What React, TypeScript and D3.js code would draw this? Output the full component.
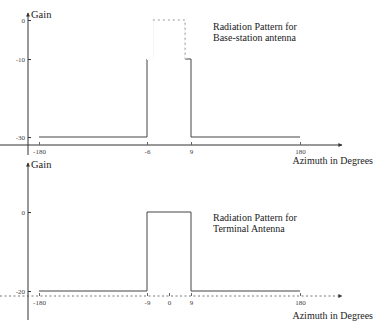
import React, { useEffect, useRef } from 'react'
import * as d3 from 'd3'

// base-station antenna: gain is constant between breaks
const baseBreaks = [-180, -6, -4, 7, 9, 180]
const baseGain = [-30, -10, 0, -10, -30]
const baseXTicks = [-180, -6, 9, 180]
const baseYTicks = [0, -10, -30]

// terminal antenna
const termBreaks = [-180, -9, 9, 180]
const termGain = [-20, 0, -20]
const termXTicks = [-180, -9, 0, 9, 180]
const termYTicks = [0, -20]

const FONT = "'Liberation Serif', 'Times New Roman', 'DejaVu Serif', serif"
const INK = '#333'

const stepPoints = (breaks: number[], gains: number[]) =>
  breaks.map((b, i) => [b, gains[Math.min(i, gains.length - 1)]] as [number, number])

const App = () => {
  const ref = useRef<SVGSVGElement>(null)

  useEffect(() => {
    const svg = d3.select(ref.current)
    svg.selectAll('*').remove()

    svg
      .append('defs')
      .append('marker')
      .attr('id', 'arrow')
      .attr('viewBox', '0 0 10 10')
      .attr('refX', 9)
      .attr('refY', 5)
      .attr('markerWidth', 5)
      .attr('markerHeight', 4)
      .attr('orient', 'auto')
      .append('path')
      .attr('d', 'M0,0L10,5L0,10z')
      .attr('fill', INK)

    const panel = ({ breaks, gains, xTicks, yTicks, x, y, axisY, yTop, yBottom, title, titleY, xlabY, dashedAxis, faint }) => {
      const g = svg.append('g').style('font-family', FONT)

      // x axis line
      g.append('line')
        .attr('x1', 0)
        .attr('x2', 342)
        .attr('y1', axisY)
        .attr('y2', axisY)
        .attr('stroke', dashedAxis ? '#777' : INK)
        .attr('stroke-width', 1)
        .attr('stroke-dasharray', dashedAxis ? '2,2.5' : null)
        .attr('marker-end', 'url(#arrow)')

      const xAxis = g
        .append('g')
        .attr('transform', `translate(0,${axisY})`)
        .call(d3.axisBottom(x).tickValues(xTicks).tickSize(-3).tickPadding(4).tickFormat(d => String(d)))
      xAxis.attr('font-family', null)
      xAxis.select('.domain').remove()
      xAxis.selectAll('line').attr('stroke', '#666')
      xAxis.selectAll('text').style('font-family', FONT).attr('font-size', 7).attr('fill', '#444')

      // y axis line
      g.append('line')
        .attr('x1', 28)
        .attr('x2', 28)
        .attr('y1', yBottom)
        .attr('y2', yTop)
        .attr('stroke', INK)
        .attr('marker-end', 'url(#arrow)')

      const yAxis = g
        .append('g')
        .attr('transform', 'translate(28,0)')
        .call(d3.axisLeft(y).tickValues(yTicks).tickSize(-3).tickPadding(3).tickFormat(d => String(d)))
      yAxis.attr('font-family', null)
      yAxis.select('.domain').remove()
      yAxis.selectAll('line').attr('stroke', INK)
      yAxis.selectAll('text').style('font-family', FONT).attr('font-size', 7).attr('fill', '#444')

      g.append('text') // ylab
        .text('Gain')
        .attr('x', 31)
        .attr('y', yTop + 5)
        .attr('font-size', 10.5)
        .attr('fill', '#222')

      g.append('text') // xlab
        .text('Azimuth in Degrees')
        .attr('x', 373)
        .attr('y', xlabY)
        .attr('text-anchor', 'end')
        .attr('font-size', 10)
        .attr('fill', '#222')

      title.forEach((t, i) =>
        g.append('text')
          .text(t)
          .attr('x', 213)
          .attr('y', titleY + i * 11)
          .attr('font-size', 10)
          .attr('fill', '#222')
      )

      const line = d3
        .line<[number, number]>()
        .x(d => x(d[0]))
        .y(d => y(d[1]))
        .curve(d3.curveStepAfter)

      const pts = stepPoints(breaks, gains)
      g.append('path')
        .attr('d', line(pts))
        .attr('fill', 'none')
        .attr('stroke', '#444')
        .attr('stroke-width', 1)

      if (faint) {
        // the scan has faded around the main-beam plateau
        const i = gains.indexOf(0)
        const seg = pts.slice(i - 1, i + 2)
        g.append('path')
          .attr('d', line(seg))
          .attr('fill', 'none')
          .attr('stroke', '#fff')
          .attr('stroke-width', 2)
        g.append('path')
          .attr('d', line(seg.slice(1)))
          .attr('fill', 'none')
          .attr('stroke', '#999')
          .attr('stroke-width', 1)
          .attr('stroke-dasharray', '2,3')
      }
    }

    const xTop = d3.scaleLinear().domain([-180, -6, 9, 180]).range([39, 147, 191, 300])
    const yTopScale = d3.scaleLinear().domain([-30, 0]).range([137, 20])
    panel({
      breaks: baseBreaks,
      gains: baseGain,
      xTicks: baseXTicks,
      yTicks: baseYTicks,
      x: xTop,
      y: yTopScale,
      axisY: 145,
      yTop: 13,
      yBottom: 155,
      title: ['Radiation Pattern for', 'Base-station antenna'],
      titleY: 30,
      xlabY: 164,
      dashedAxis: false,
      faint: true,
    })

    const xBot = d3.scaleLinear().domain([-180, -9, 9, 180]).range([39, 147, 191, 300])
    const yBotScale = d3.scaleLinear().domain([-20, 0]).range([291, 212])
    panel({
      breaks: termBreaks,
      gains: termGain,
      xTicks: termXTicks,
      yTicks: termYTicks,
      x: xBot,
      y: yBotScale,
      axisY: 296,
      yTop: 163,
      yBottom: 320,
      title: ['Radiation Pattern for', 'Terminal Antenna'],
      titleY: 221,
      xlabY: 319,
      dashedAxis: true,
      faint: false,
    })
  }, [])

  return <svg ref={ref} width={374} height={321} style={{ position: 'absolute', left: 0, top: 0, background: '#fff' }} />
}

export default App
